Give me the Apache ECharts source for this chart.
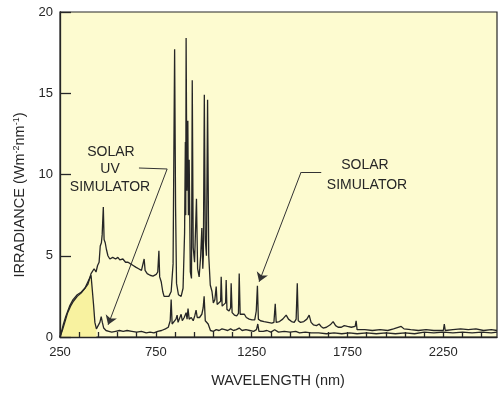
<!DOCTYPE html>
<html>
<head>
<meta charset="utf-8">
<script src="https://cdn.jsdelivr.net/npm/echarts@6/dist/echarts.min.js"></script>
<style>
html,body{margin:0;padding:0;background:#ffffff;}
#chart{width:499px;height:397px;}
</style>
</head>
<body>
<div id="chart"></div>
<script>
// ---- data ----
var xTicks = [250, 750, 1250, 1750, 2250];
var yTicks = [0, 5, 10, 15, 20];
var xTickStep = 100;

var solarWl = [250,258,268,281,300,318,340,360,380,396,412,428,438,446,454,460,466,470,476,480,486,492,500,510,525,540,552,562,578,592,605,618,632,645,660,675,684,689,694,705,720,735,745,752,760,766,770,778,786,793,805,818,830,840,848,853,858,868,882,892,900,904,906,908,912,917,920,924,930,936,940,945,952,962,968,976,984,990,995,998,1003,1008,1014,1020,1026,1034,1043,1050,1058,1065,1070,1080,1088,1091,1096,1106,1114,1117,1121,1132,1140,1143,1148,1160,1172,1181,1185,1190,1200,1212,1222,1237,1252,1266,1274,1280,1285,1296,1315,1335,1355,1366,1373,1378,1395,1412,1430,1442,1458,1472,1482,1488,1493,1505,1522,1538,1550,1560,1572,1588,1602,1612,1623,1640,1660,1675,1688,1701,1718,1733,1750,1770,1790,1795,1800,1840,1880,1920,1960,1990,2030,2045,2080,2120,2160,2200,2250,2255,2260,2300,2340,2380,2420,2460,2500,2530];
var solarVal = [0,0.35,0.8,1.3,1.9,2.3,2.6,2.75,3.0,3.25,3.9,4.2,4.0,4.4,4.6,5.6,5.8,6.3,8.0,6.0,5.8,5.4,5.0,4.8,4.9,4.8,4.9,4.75,4.8,4.6,4.6,4.5,4.4,4.3,4.2,4.1,4.2,4.8,4.1,3.9,3.8,3.75,3.7,3.85,4.0,5.3,3.7,3.4,2.8,2.5,2.5,2.5,2.8,4.5,17.7,8.0,3.3,2.6,2.5,3.0,6.4,12.0,7.5,18.4,9.0,13.3,7.5,10.9,4.0,3.6,15.8,5.5,4.6,8.5,4.2,3.7,5.0,6.7,4.2,5.0,14.9,6.0,5.0,14.6,5.0,3.2,2.8,2.1,2.3,3.1,2.0,1.9,2.2,3.7,1.9,1.8,2.1,3.5,1.7,1.6,1.8,3.3,1.5,1.35,1.3,1.45,3.9,1.4,1.35,1.4,1.2,1.1,1.05,1.05,1.6,3.15,1.1,1.0,0.95,0.9,0.85,0.9,2.05,0.9,0.95,1.1,1.35,1.1,0.95,0.9,1.1,3.3,1.0,0.9,0.95,1.1,1.35,0.9,0.75,0.7,0.8,0.65,0.55,0.6,0.75,0.95,0.7,0.6,0.6,0.7,0.65,0.6,0.65,1.0,0.45,0.45,0.4,0.45,0.4,0.5,0.65,0.5,0.45,0.4,0.45,0.4,0.4,0.8,0.4,0.45,0.5,0.45,0.5,0.4,0.45,0.4];

var uvWl = [250,262,275,290,305,320,340,360,380,400,412,417,425,432,440,450,458,465,471,478,490,505,520,540,560,580,600,625,650,675,700,720,740,760,780,800,815,825,830,835,845,855,861,866,876,882,888,898,908,913,918,924,935,945,953,960,966,978,990,997,1002,1008,1023,1035,1050,1065,1080,1095,1110,1125,1140,1155,1170,1185,1200,1220,1240,1260,1275,1282,1288,1310,1330,1350,1370,1390,1420,1450,1480,1500,1530,1560,1600,1640,1680,1720,1760,1800,1850,1900,1950,2000,2050,2100,2150,2200,2250,2300,2350,2400,2450,2500,2530];
var uvVal = [0,0.4,0.9,1.5,1.9,2.2,2.5,2.7,3.0,3.5,3.8,3.7,2.0,0.9,0.5,0.6,0.9,1.25,0.9,0.55,0.4,0.35,0.3,0.35,0.4,0.35,0.4,0.35,0.3,0.35,0.25,0.3,0.25,0.35,0.4,0.5,0.6,1.0,2.3,0.8,0.9,1.1,1.35,0.9,1.0,1.4,1.0,1.2,1.5,1.1,1.75,1.1,1.2,1.0,1.3,1.65,1.2,1.2,1.4,1.8,2.5,1.0,0.8,0.4,0.35,0.45,0.4,0.5,0.45,0.4,0.5,0.4,0.45,0.55,0.4,0.45,0.4,0.35,0.45,0.8,0.35,0.35,0.4,0.3,0.45,0.3,0.35,0.3,0.35,0.25,0.3,0.25,0.25,0.2,0.25,0.2,0.25,0.2,0.25,0.2,0.25,0.2,0.25,0.2,0.3,0.25,0.3,0.25,0.3,0.25,0.3,0.25,0.3];

// end of the shaded UV band
var uvFillEnd = 440;

function pairs(xs, ys) { return xs.map(function (x, i) { return [x, ys[i]]; }); }
var solarData = pairs(solarWl, solarVal);
var uvData = pairs(uvWl, uvVal);
var uvFillData = uvData.filter(function (p) { return p[0] <= uvFillEnd; });

var FONT = 'Liberation Sans, Arial, Helvetica, sans-serif';
var INK = '#262626';

var chart = echarts.init(document.getElementById('chart'), null, {renderer: 'canvas'});
chart.setOption({
  animation: false,
  backgroundColor: '#ffffff',
  grid: {
    left: 60, right: 2, top: 12, bottom: 60,
    show: true, backgroundColor: '#fdfbd0', borderColor: INK, borderWidth: 1.2
  },
  xAxis: {
    type: 'value', min: 250, max: 2530, interval: xTickStep, z: 10,
    axisLine: {show: true, onZero: false, lineStyle: {color: INK, width: 1.3}},
    axisTick: {show: true, inside: true, length: 5, lineStyle: {color: INK, width: 1.3}},
    splitLine: {show: false},
    axisLabel: {
      color: INK, fontFamily: FONT, fontSize: 13, margin: 9, showMaxLabel: false, interval: 0,
      hideOverlap: false,
      formatter: function (v) { return xTicks.indexOf(v) >= 0 ? String(v) : ''; }
    }
  },
  yAxis: {
    type: 'value', min: 0, max: 20, interval: 5, z: 10,
    axisLine: {show: true, lineStyle: {color: INK, width: 1.3}},
    axisTick: {show: true, inside: true, length: 11, lineStyle: {color: INK, width: 1.3}},
    splitLine: {show: false},
    axisLabel: {
      color: INK, fontFamily: FONT, fontSize: 13, margin: 7,
      formatter: function (v) { return yTicks.indexOf(v) >= 0 ? String(v) : ''; }
    }
  },
  series: [
    {
      type: 'line', name: 'UV fill', data: uvFillData, showSymbol: false, silent: true,
      lineStyle: {width: 0}, areaStyle: {color: '#f8f2a0', opacity: 1}, z: 1
    },
    {
      type: 'line', name: 'Solar simulator', data: solarData, showSymbol: false,
      lineStyle: {color: INK, width: 1.3}, z: 3
    },
    {
      type: 'line', name: 'Solar UV simulator', data: uvData, showSymbol: false,
      lineStyle: {color: INK, width: 1.3}, z: 3
    },
    {
      type: 'lines', coordinateSystem: 'cartesian2d', z: 4,
      lineStyle: {color: '#333', width: 1, opacity: 1},
      symbol: ['none', 'none'],
      data: [
        {coords: [[662, 10.4], [809, 10.34]]},
        {coords: [[1613, 10.15], [1508, 10.15]]}
      ]
    },
    {
      type: 'lines', coordinateSystem: 'cartesian2d', z: 4,
      lineStyle: {color: '#333', width: 1, opacity: 1},
      symbol: ['none', 'arrow'], symbolSize: 9,
      data: [
        {coords: [[809, 10.34], [501, 0.75]]},
        {coords: [[1508, 10.15], [1289, 3.4]]}
      ]
    }
  ],
  graphic: [
    {type: 'text', x: 111, y: 152, style: {text: 'SOLAR', font: '14px ' + FONT, fill: INK, textAlign: 'center', textVerticalAlign: 'middle'}},
    {type: 'text', x: 110, y: 169, style: {text: 'UV', font: '14px ' + FONT, fill: INK, textAlign: 'center', textVerticalAlign: 'middle'}},
    {type: 'text', x: 110, y: 187, style: {text: 'SIMULATOR', font: '14px ' + FONT, fill: INK, textAlign: 'center', textVerticalAlign: 'middle'}},
    {type: 'text', x: 365, y: 165, style: {text: 'SOLAR', font: '14px ' + FONT, fill: INK, textAlign: 'center', textVerticalAlign: 'middle'}},
    {type: 'text', x: 367, y: 185, style: {text: 'SIMULATOR', font: '14px ' + FONT, fill: INK, textAlign: 'center', textVerticalAlign: 'middle'}},
    {type: 'text', x: 278, y: 381, style: {text: 'WAVELENGTH (nm)', font: '14.5px ' + FONT, fill: INK, textAlign: 'center', textVerticalAlign: 'middle'}},
    {
      type: 'text', x: 20, y: 195, rotation: Math.PI / 2,
      style: {
        text: 'IRRADIANCE (Wm{s|-2}nm{s|-1})',
        font: '14.5px ' + FONT, fill: INK, textAlign: 'center', textVerticalAlign: 'middle',
        rich: {s: {fontSize: 9, fontFamily: FONT, verticalAlign: 'top', fill: INK}}
      }
    }
  ]
});
</script>
</body>
</html>
